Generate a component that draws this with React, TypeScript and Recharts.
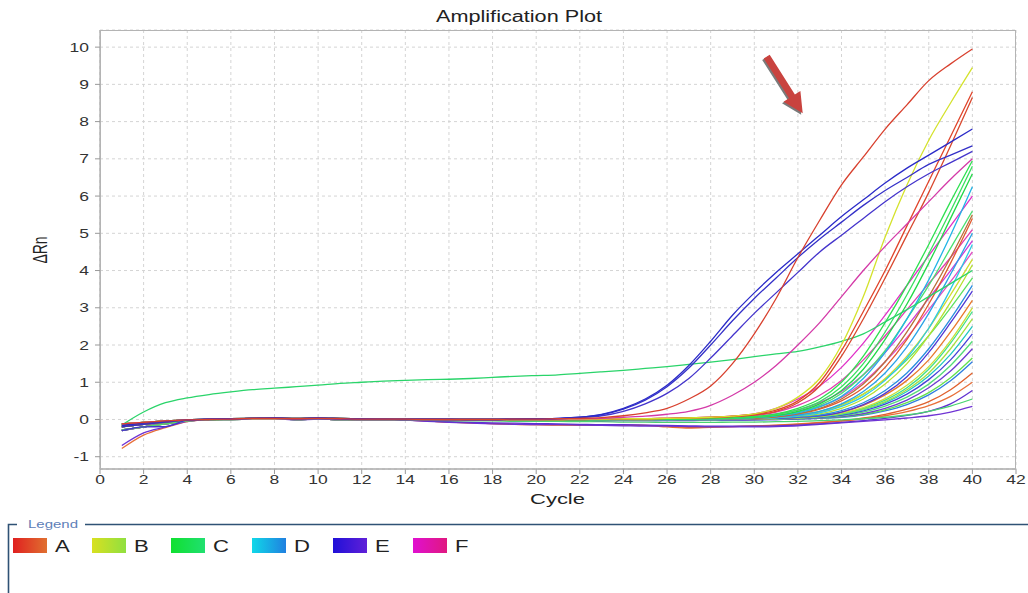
import React from 'react';
import { LineChart, Line, XAxis, YAxis, CartesianGrid } from 'recharts';

const CYCLES = [1,2,3,4,5,6,7,8,9,10,11,12,13,14,15,16,17,18,19,20,21,22,23,24,25,26,27,28,29,30,31,32,33,34,35,36,37,38,39,40];
const X_TICKS = [0,2,4,6,8,10,12,14,16,18,20,22,24,26,28,30,32,34,36,38,40,42];
const Y_TICKS = [-1,0,1,2,3,4,5,6,7,8,9,10];
const GROUPS = ['A','B','C','D','E','F'];

const A1 = [-0.12,-0.08,-0.04,-0.01,0,0.01,0.03,0.03,0.02,0.03,0.02,0.01,0.01,0.01,0,0,0,0,0.01,0.01,0.02,0.03,0.05,0.1,0.18,0.3,0.55,0.9,1.5,2.3,3.25,4.35,5.35,6.3,7.05,7.8,8.45,9.1,9.55,9.95];
const A2 = [-0.2,-0.13,-0.07,-0.02,0,0.01,0.03,0.03,0.02,0.03,0.02,0.01,0.01,0,0,-0.01,-0.01,-0.01,0,0,0,0.01,0.01,0.02,0.02,0.03,0.04,0.06,0.09,0.14,0.25,0.5,1.0,1.85,2.9,4.0,5.2,6.4,7.6,8.8];
const A3 = [-0.16,-0.1,-0.05,-0.01,0.01,0.02,0.03,0.04,0.03,0.04,0.03,0.02,0.01,0.01,0.01,0.01,0,0,0,0,0,0,0.01,0.01,0.02,0.03,0.04,0.05,0.08,0.12,0.22,0.45,0.9,1.7,2.7,3.8,4.95,6.1,7.35,8.65];
const A4 = [-0.28,-0.2,-0.12,-0.04,-0.01,0,0.01,0.02,0,0.01,0,0,0,0,-0.01,-0.02,-0.02,-0.02,-0.02,-0.01,0,0,0,0,0.01,0.01,0.01,0.02,0.03,0.04,0.08,0.16,0.3,0.55,0.95,1.55,2.35,3.3,4.35,5.5];
const A5 = [-0.12,-0.08,-0.04,-0.01,0,0.01,0.02,0.02,0.01,0.02,0.01,0,0,0,0,0,0,0,0,0,0,0,0,0,0,0.01,0.01,0.02,0.02,0.04,0.07,0.15,0.28,0.5,0.85,1.4,2.15,3.1,4.2,5.4];
const A6 = [-0.2,-0.13,-0.07,-0.02,0,0.01,0.03,0.03,0.02,0.03,0.02,0.01,0.01,0,0,-0.01,-0.01,-0.01,0,0,0,0,0,0,0,0,0.01,0.01,0.02,0.02,0.03,0.06,0.1,0.2,0.38,0.66,1.05,1.6,2.35,3.2];
const A7 = [-0.3,-0.2,-0.1,-0.03,0,0.01,0.02,0.02,0.01,0.01,0,0,0,-0.02,-0.04,-0.07,-0.09,-0.11,-0.13,-0.14,-0.15,-0.15,-0.15,-0.16,-0.16,-0.18,-0.21,-0.2,-0.19,-0.18,-0.16,-0.13,-0.09,-0.04,0.04,0.14,0.28,0.48,0.8,1.25];
const A8 = [-0.78,-0.42,-0.22,-0.06,0,0.01,0.02,0.02,0.01,0.01,0,0,0,-0.02,-0.04,-0.07,-0.09,-0.11,-0.13,-0.14,-0.14,-0.15,-0.15,-0.15,-0.16,-0.2,-0.23,-0.21,-0.19,-0.17,-0.15,-0.12,-0.08,-0.04,0.02,0.1,0.21,0.37,0.62,1.0];

const B1 = [-0.12,-0.08,-0.04,-0.01,0,0.01,0.02,0.02,0.01,0.02,0.01,0,0,0,0,0,0,0,0,0,0,0.01,0.01,0.02,0.02,0.03,0.04,0.06,0.09,0.15,0.3,0.6,1.1,2.0,3.3,4.9,6.3,7.5,8.5,9.45];
const B2 = [-0.16,-0.1,-0.05,-0.01,0.01,0.02,0.03,0.04,0.03,0.04,0.03,0.02,0.01,0.01,0.01,0.01,0,0,0,0,0,0,0,0,0.01,0.01,0.01,0.02,0.03,0.05,0.08,0.12,0.2,0.38,0.68,1.1,1.7,2.45,3.35,4.3];
const B3 = [-0.2,-0.13,-0.07,-0.02,0,0.01,0.03,0.03,0.02,0.03,0.02,0.01,0.01,0,0,-0.01,-0.01,-0.01,0,0,0,0,0,0,0,0.01,0.01,0.02,0.02,0.03,0.05,0.09,0.15,0.3,0.55,0.95,1.5,2.25,3.15,4.15];
const B4 = [-0.28,-0.2,-0.12,-0.04,-0.01,0,0.01,0.02,0,0.01,0,0,0,0,-0.01,-0.02,-0.02,-0.02,-0.02,-0.01,0,0,0,0,0,0,0,0,0.01,0.01,0.02,0.04,0.08,0.15,0.28,0.48,0.8,1.25,1.9,2.7];
const B5 = [-0.12,-0.08,-0.04,-0.01,0,0.01,0.02,0.02,0.01,0.02,0.01,0,0,0,0,0,0,0,0,0,0,0,0,0,0,0,0.01,0.01,0.01,0.02,0.03,0.05,0.09,0.17,0.32,0.56,0.92,1.42,2.12,3.0];

const C0 = [-0.15,0.2,0.45,0.58,0.67,0.74,0.8,0.84,0.88,0.92,0.97,1.0,1.03,1.05,1.07,1.08,1.1,1.13,1.16,1.18,1.2,1.24,1.28,1.32,1.37,1.42,1.48,1.54,1.61,1.69,1.76,1.83,1.95,2.1,2.3,2.62,2.95,3.3,3.65,4.0];
const C1 = [-0.16,-0.1,-0.05,-0.01,0.01,0.02,0.03,0.04,0.03,0.04,0.03,0.02,0.01,0.01,0.01,0.01,0,0,0,0,0,0,0.01,0.01,0.01,0.02,0.02,0.03,0.05,0.08,0.15,0.3,0.55,1.0,1.7,2.6,3.6,4.7,5.85,6.95];
const C2 = [-0.12,-0.08,-0.04,-0.01,0,0.01,0.02,0.02,0.01,0.02,0.01,0,0,0,0,0,0,0,0,0,0,0,0,0.01,0.01,0.02,0.02,0.03,0.04,0.07,0.13,0.26,0.48,0.88,1.5,2.35,3.35,4.45,5.6,6.8];
const C3 = [-0.2,-0.13,-0.07,-0.02,0,0.01,0.03,0.03,0.02,0.03,0.02,0.01,0.01,0,0,-0.01,-0.01,-0.01,0,0,0,0,0,0.01,0.01,0.01,0.02,0.03,0.04,0.06,0.11,0.22,0.42,0.78,1.35,2.15,3.1,4.2,5.4,6.6];
const C4 = [-0.28,-0.2,-0.12,-0.04,-0.01,0,0.01,0.02,0,0.01,0,0,0,0,-0.01,-0.02,-0.02,-0.02,-0.02,-0.01,0,0,0,0,0.01,0.01,0.02,0.02,0.03,0.05,0.1,0.2,0.38,0.7,1.2,1.85,2.7,3.6,4.6,5.6];
const C5 = [-0.16,-0.1,-0.05,-0.01,0.01,0.02,0.03,0.04,0.03,0.04,0.03,0.02,0.01,0.01,0.01,0.01,0,0,0,0,0,0,0,0,0,0.01,0.01,0.02,0.03,0.05,0.08,0.13,0.22,0.4,0.68,1.08,1.6,2.25,3.0,3.8];
const C6 = [-0.12,-0.08,-0.04,-0.01,0,0.01,0.02,0.02,0.01,0.02,0.01,0,0,0,0,0,0,0,0,0,0,0,0,0,0,0,0,0.01,0.01,0.02,0.03,0.05,0.09,0.16,0.3,0.52,0.85,1.35,2.05,2.9];
const C7 = [-0.2,-0.13,-0.07,-0.02,0,0.01,0.03,0.03,0.02,0.03,0.02,0.01,0.01,0,0,-0.01,-0.01,-0.01,0,0,0,0,0,0,0,0,0,0,0,0.01,0.01,0.03,0.05,0.1,0.2,0.36,0.6,0.95,1.45,2.1];
const C8 = [-0.28,-0.2,-0.12,-0.04,-0.01,0,0.01,0.02,0,0.01,0,0,0,0,-0.01,-0.02,-0.02,-0.02,-0.02,-0.01,0,0,0,0,0,0,0,0,0,0,0.01,0.02,0.04,0.07,0.14,0.26,0.45,0.72,1.12,1.65];
const C9 = [-0.3,-0.2,-0.1,-0.03,0,0.01,0.02,0.02,0.01,0.01,0,0,0,-0.01,-0.02,-0.03,-0.04,-0.04,-0.05,-0.05,-0.05,-0.06,-0.06,-0.07,-0.07,-0.08,-0.08,-0.08,-0.07,-0.07,-0.06,-0.05,-0.03,-0.01,0.02,0.06,0.12,0.22,0.36,0.55];

const D1 = [-0.2,-0.13,-0.07,-0.02,0,0.01,0.03,0.03,0.02,0.03,0.02,0.01,0.01,0,0,-0.01,-0.01,-0.01,0,0,0,0,0,0,0.01,0.01,0.02,0.02,0.03,0.05,0.1,0.18,0.34,0.62,1.1,1.8,2.7,3.75,4.95,6.25];
const D2 = [-0.28,-0.2,-0.12,-0.04,-0.01,0,0.01,0.02,0,0.01,0,0,0,0,-0.01,-0.02,-0.02,-0.02,-0.02,-0.01,0,0,0,0,0,0,0.01,0.01,0.02,0.03,0.05,0.1,0.18,0.35,0.62,1.05,1.65,2.45,3.5,4.7];
const D3 = [-0.16,-0.1,-0.05,-0.01,0.01,0.02,0.03,0.04,0.03,0.04,0.03,0.02,0.01,0.01,0.01,0.01,0,0,0,0,0,0,0,0,0,0,0.01,0.01,0.02,0.03,0.04,0.07,0.12,0.24,0.45,0.78,1.25,1.9,2.7,3.6];
const D4 = [-0.12,-0.08,-0.04,-0.01,0,0.01,0.02,0.02,0.01,0.02,0.01,0,0,0,0,0,0,0,0,0,0,0,0,0,0,0,0,0,0.01,0.01,0.02,0.04,0.07,0.14,0.26,0.45,0.75,1.17,1.75,2.5];
const D5 = [-0.2,-0.13,-0.07,-0.02,0,0.01,0.03,0.03,0.02,0.03,0.02,0.01,0.01,0,0,-0.01,-0.01,-0.01,-0.01,-0.01,-0.01,-0.01,-0.01,-0.01,-0.02,-0.02,-0.02,-0.01,-0.01,-0.01,0,0.01,0.03,0.06,0.12,0.23,0.4,0.66,1.04,1.55];
const D6 = [-0.12,-0.08,-0.04,-0.01,0,0.01,0.02,0.02,0.01,0.02,0.01,0,0,0,0,0,0,0,0,0,0,0,0,0,0,0.01,0.01,0.02,0.02,0.04,0.07,0.12,0.22,0.42,0.75,1.25,1.95,2.85,3.9,5.0];

const E1 = [-0.16,-0.1,-0.05,-0.01,0.01,0.02,0.03,0.04,0.03,0.04,0.03,0.02,0.01,0.01,0.01,0.01,0,0,0.01,0.02,0.03,0.06,0.14,0.3,0.55,0.92,1.45,2.1,2.8,3.4,3.95,4.45,4.95,5.45,5.9,6.35,6.75,7.1,7.45,7.8];
const E2 = [-0.2,-0.13,-0.07,-0.02,0,0.01,0.03,0.03,0.02,0.03,0.02,0.01,0.01,0,0,0,0,0,0.01,0.02,0.03,0.06,0.13,0.28,0.52,0.88,1.38,2.0,2.65,3.25,3.8,4.35,4.85,5.3,5.75,6.15,6.5,6.85,7.1,7.35];
const E3 = [-0.3,-0.2,-0.19,-0.02,0.01,0.02,0.03,0.03,0.02,0.02,0.01,0,0,0,0,0,0,0,0.01,0.01,0.02,0.05,0.1,0.22,0.42,0.7,1.1,1.65,2.25,2.85,3.4,3.95,4.5,4.95,5.4,5.85,6.25,6.6,6.9,7.2];
const E4 = [-0.28,-0.2,-0.12,-0.04,-0.01,0,0.01,0.02,0,0.01,0,0,0,0,-0.01,-0.02,-0.02,-0.02,-0.02,-0.01,0,0,0,0,0,0,0,0.01,0.01,0.02,0.03,0.06,0.1,0.2,0.4,0.7,1.15,1.8,2.6,3.45];
const E5 = [-0.2,-0.13,-0.07,-0.02,0,0.01,0.03,0.03,0.02,0.03,0.02,0.01,0.01,0,0,-0.01,-0.01,-0.01,-0.01,-0.01,-0.01,-0.01,-0.01,-0.01,-0.01,0,0,0,0,0.01,0.02,0.03,0.06,0.12,0.23,0.41,0.68,1.07,1.6,2.3];
const E6 = [-0.3,-0.2,-0.1,-0.03,0,0.01,0.02,0.02,-0.02,0.01,0,0,0,-0.01,-0.01,-0.02,-0.02,-0.02,-0.02,-0.02,-0.02,-0.02,-0.03,-0.03,-0.03,-0.03,-0.03,-0.02,-0.02,-0.01,0,0.02,0.04,0.08,0.16,0.3,0.52,0.85,1.3,1.9];
const E7 = [-0.3,-0.2,-0.1,-0.03,0,0.01,0.02,0.02,0.01,0.01,0,0,0,-0.02,-0.04,-0.06,-0.08,-0.09,-0.1,-0.11,-0.12,-0.13,-0.14,-0.14,-0.15,-0.16,-0.17,-0.18,-0.18,-0.18,-0.17,-0.15,-0.12,-0.08,-0.03,0.03,0.11,0.22,0.42,0.78];
const E8 = [-0.7,-0.36,-0.2,-0.05,0,0.01,0.02,0.02,0.01,0.01,0,0,0,-0.02,-0.05,-0.08,-0.1,-0.12,-0.13,-0.14,-0.14,-0.15,-0.16,-0.17,-0.18,-0.18,-0.19,-0.2,-0.2,-0.2,-0.19,-0.17,-0.13,-0.09,-0.05,-0.01,0.04,0.1,0.2,0.35];

const F1 = [-0.12,-0.08,-0.04,-0.01,0,0.01,0.02,0.02,0.01,0.02,0.01,0,0,0,0,0,0,0,0,0,0.01,0.02,0.03,0.06,0.09,0.14,0.22,0.38,0.65,1.0,1.45,2.0,2.6,3.3,4.0,4.65,5.25,5.85,6.45,7.0];
const F2 = [-0.16,-0.1,-0.05,-0.01,0.01,0.02,0.03,0.04,0.03,0.04,0.03,0.02,0.01,0.01,0.01,0.01,0,0,0,0,0,0.01,0.01,0.02,0.02,0.03,0.04,0.06,0.09,0.15,0.3,0.55,0.9,1.4,2.05,2.8,3.6,4.4,5.2,6.0];
const F3 = [-0.2,-0.13,-0.07,-0.02,0,0.01,0.03,0.03,0.02,0.03,0.02,0.01,0.01,0,0,-0.01,-0.01,-0.01,0,0,0,0,0.01,0.01,0.02,0.02,0.03,0.04,0.06,0.1,0.2,0.38,0.65,1.05,1.6,2.25,2.95,3.65,4.35,5.1];
const F4 = [-0.28,-0.2,-0.12,-0.04,-0.01,0,0.01,0.02,0,0.01,0,0,0,0,-0.01,-0.02,-0.02,-0.02,-0.02,-0.01,0,0,0,0.01,0.01,0.02,0.02,0.03,0.05,0.08,0.14,0.25,0.45,0.75,1.2,1.8,2.5,3.25,4.0,4.8];
const F5 = [-0.12,-0.08,-0.04,-0.01,0,0.01,0.02,0.02,0.01,0.02,0.01,0,0,0,0,0,0,0,0,0,0,0,0,0,0.01,0.01,0.02,0.03,0.04,0.06,0.11,0.2,0.35,0.6,1.0,1.55,2.2,2.95,3.7,4.5];

const VALUES: Record<string, number[]> = {
  A8, A7, E8, E7, C9, D5, C8, E6, C7, E5, D4, B4, C6, B5, A6, E4, D3, C5, B3, B2, F5, D2, F4, D6, F3, A5, A4, C4, F2, D1, C3, C2, C1, C0, A3, A2, B1, F1, E3, E2, E1, A1,
};

const COLORS: Record<string, string> = {
  A1: '#d8402e', A2: '#e0442a', A3: '#d9482e', A4: '#b8703a', A5: '#e05a30', A6: '#e8782e', A7: '#e0602c', A8: '#e8703a',
  B1: '#d4e22c', B2: '#d0dc30', B3: '#b4e030', B4: '#a8e040', B5: '#c8e03a',
  C0: '#2ad46a', C1: '#2ee050', C2: '#3ae060', C3: '#22d848', C4: '#48e070', C5: '#5ce060', C6: '#40e08a', C7: '#54dc78', C8: '#62e04e', C9: '#48d470',
  D1: '#22b4e6', D2: '#2ec8e4', D3: '#2a8ee0', D4: '#22c8c0', D5: '#2f7de0', D6: '#2aa2e6',
  E1: '#2a2ac8', E2: '#3430c8', E3: '#4434cc', E4: '#5038d4', E5: '#4640d8', E6: '#6c3ad0', E7: '#6030d0', E8: '#7034d4',
  F1: '#d43aa8', F2: '#e030c8', F3: '#e23cb0', F4: '#cc3ad8', F5: '#e24cc4',
};

const LEGEND_GRADIENTS: Record<string, [string, string]> = {
  A: ['#e02020', '#e07030'],
  B: ['#d8e020', '#90e040'],
  C: ['#10e030', '#20e070'],
  D: ['#10d8e8', '#2080e0'],
  E: ['#2010d8', '#6020d8'],
  F: ['#e010d0', '#e01880'],
};

const SERIES_KEYS = Object.keys(VALUES);

const data = CYCLES.map((c, i) => {
  const row: Record<string, number> = { cycle: c };
  SERIES_KEYS.forEach((k) => {
    row[k] = VALUES[k][i];
  });
  return row;
});

const FONT = "'Liberation Sans', Arial, sans-serif";
const SX = 1.4;

const XTick = (props: any) => {
  const { x, y, payload } = props;
  return (
    <text transform={`translate(${x},${y + 8}) scale(${SX},1)`} textAnchor="middle" fontSize={12.5} fill="#333" fontFamily={FONT}>
      {payload.value}
    </text>
  );
};

const YTick = (props: any) => {
  const { x, y, payload } = props;
  return (
    <text transform={`translate(${x - 4},${y + 4.5}) scale(${SX},1)`} textAnchor="end" fontSize={12.5} fill="#333" fontFamily={FONT}>
      {payload.value}
    </text>
  );
};

export default function App() {
  const legendX = [13, 92, 171, 252, 333, 413];
  return (
    <div style={{ position: 'absolute', left: 0, top: 0, width: 1028, height: 593, background: '#fff', overflow: 'hidden' }}>
      <LineChart width={1028} height={593} data={data} margin={{ top: 30, right: 12, left: 0, bottom: 94 }}>
        <CartesianGrid stroke="#d4d4d4" strokeDasharray="3 3" />
        <XAxis
          dataKey="cycle"
          type="number"
          domain={[0, 42]}
          ticks={X_TICKS}
          interval={0}
          height={30}
          tick={<XTick />}
          tickSize={5}
          axisLine={{ stroke: '#999' }}
          tickLine={{ stroke: '#999' }}
        />
        <YAxis
          type="number"
          domain={[-1.33, 10.46]}
          ticks={Y_TICKS}
          interval={0}
          width={100}
          tick={<YTick />}
          tickSize={5}
          axisLine={{ stroke: '#999' }}
          tickLine={{ stroke: '#999' }}
          allowDataOverflow
        />
        {SERIES_KEYS.map((k) => (
          <Line key={k} dataKey={k} type="monotone" stroke={COLORS[k]} strokeWidth={1.3} dot={false} isAnimationActive={false} />
        ))}
      </LineChart>
      <svg width={1028} height={593} style={{ position: 'absolute', left: 0, top: 0, pointerEvents: 'none' }}>
        <defs>
          {GROUPS.map((g) => (
            <linearGradient key={g} id={`lg${g}`} x1="0" y1="0" x2="1" y2="0">
              <stop offset="0" stopColor={LEGEND_GRADIENTS[g][0]} />
              <stop offset="1" stopColor={LEGEND_GRADIENTS[g][1]} />
            </linearGradient>
          ))}
        </defs>
        <rect x={100.5} y={30.5} width={915} height={438.5} fill="none" stroke="#b4b4b4" strokeWidth={1} />
        <text x={519} y={22} textAnchor="middle" fontSize={16} fill="#222" fontFamily={FONT} textLength={166} lengthAdjust="spacingAndGlyphs">
          Amplification Plot
        </text>
        <text x={557.5} y={504} textAnchor="middle" fontSize={15} fill="#222" fontFamily={FONT} textLength={55} lengthAdjust="spacingAndGlyphs">
          Cycle
        </text>
        <text transform={`translate(46.5,250) scale(${SX},1) rotate(-90)`} textAnchor="middle" fontSize={14} fill="#222" fontFamily={FONT}>
          ΔRn
        </text>
        {/* arrow annotation */}
        <polygon
          points="768.2,56.3 793.4,96.0 798.9,92.5 801.2,114.8 782.0,103.3 787.5,99.8 762.2,60.1"
          fill="#7a7a7a"
        />
        <polygon
          points="769.7,54.8 794.9,94.5 800.4,91.0 802.7,113.3 783.5,101.8 789.0,98.3 763.7,58.6"
          fill="#c9433f"
        />
        {/* legend box */}
        <path d="M 17 524.5 L 8.5 524.5 L 8.5 593" fill="none" stroke="#2f5275" strokeWidth={1.6} />
        <path d="M 85 524.5 L 1028 524.5" fill="none" stroke="#2f5275" strokeWidth={1.6} />
        <text x={28} y={527.5} fontSize={10} fill="#5d80b8" fontFamily={FONT} textLength={50} lengthAdjust="spacingAndGlyphs">
          Legend
        </text>
        {GROUPS.map((g, i) => (
          <g key={g}>
            <rect x={legendX[i]} y={538} width={34} height={15} fill={`url(#lg${g})`} />
            <text transform={`translate(${legendX[i] + 42},551.7) scale(1.3,1)`} fontSize={17} fill="#222" fontFamily={FONT}>
              {g}
            </text>
          </g>
        ))}
      </svg>
    </div>
  );
}
